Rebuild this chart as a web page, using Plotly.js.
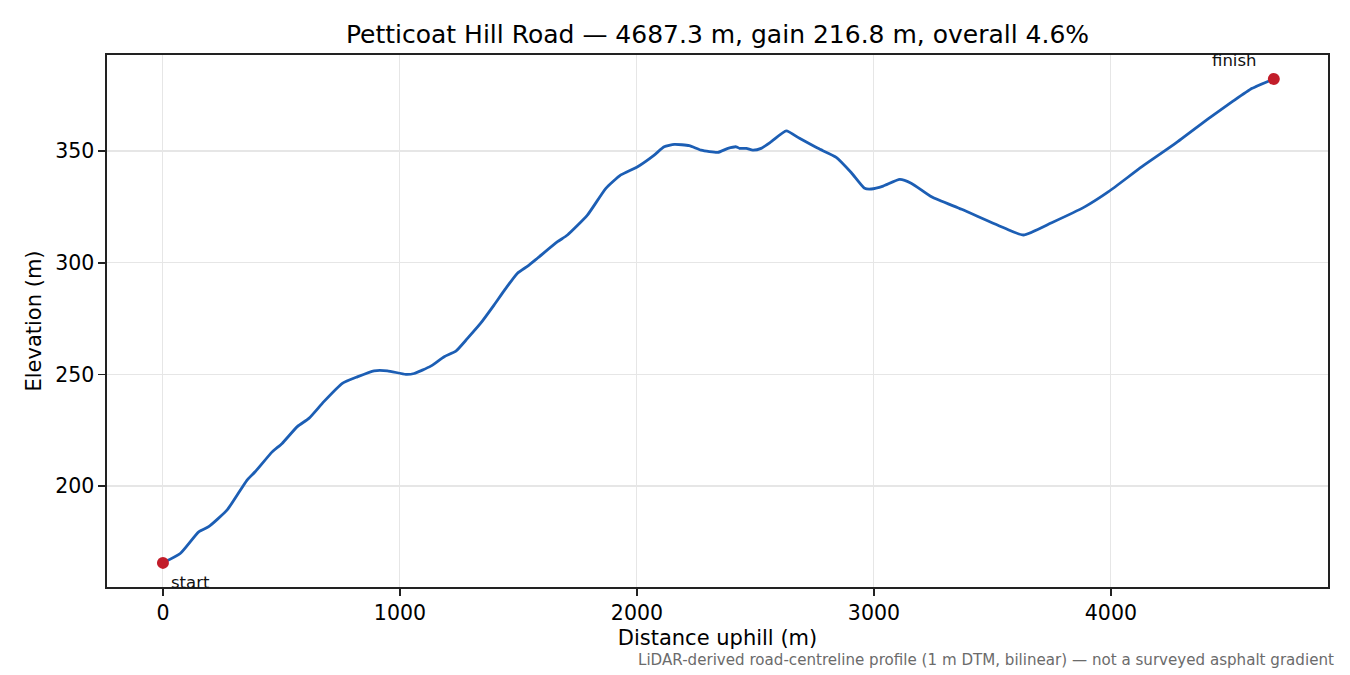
<!DOCTYPE html>
<html>
<head>
<meta charset="utf-8">
<script src="https://cdn.plot.ly/plotly-3.0.1.min.js"></script>
<style>
  html, body { margin: 0; padding: 0; background: #fff; }
  #chart { width: 1350px; height: 675px; }
</style>
</head>
<body>
<div id="chart"></div>
<script>
// ─── Profile data ────────────────────────────────────────────────────────────
const distance = [
  0, 73, 151, 193, 271, 355, 390, 461, 503, 567, 616, 679, 757, 820, 891, 947,
  1025, 1060, 1130, 1187, 1236, 1285, 1340, 1397, 1440, 1495, 1539, 1580, 1665,
  1707, 1791, 1869, 1932, 2003, 2073, 2115, 2158, 2221, 2271, 2341, 2384, 2419,
  2433, 2462, 2489, 2524, 2567, 2630, 2686, 2764, 2841, 2905, 2961, 2989, 3039,
  3109, 3159, 3243, 3370, 3553, 3631, 3750, 3891, 3990, 4131, 4272, 4413, 4512,
  4596, 4687.3
];
const elevation = [
  165.6, 169.8, 179.5, 181.8, 189.3, 202.7, 206.5, 215.3, 219.1, 226.6, 230.3,
  237.8, 246.0, 248.9, 251.6, 251.6, 250.0, 250.4, 253.7, 257.9, 260.4, 266.1,
  272.8, 281.0, 287.5, 295.2, 298.5, 302.0, 309.4, 312.4, 321.3, 333.3, 339.3,
  343.0, 348.2, 351.9, 353.0, 352.4, 350.4, 349.4, 351.2, 351.9, 351.2, 351.2,
  350.4, 351.2, 354.2, 359.0, 355.7, 351.2, 347.2, 340.3, 333.3, 333.0, 334.3,
  337.3, 335.5, 329.5, 323.9, 315.4, 312.4, 317.9, 325.1, 331.8, 343.0, 353.4,
  364.6, 372.1, 378.1, 382.3
];
const endLabels = ['start', 'finish'];

const xTicks = [0, 1000, 2000, 3000, 4000];
const yTicks = [200, 250, 300, 350];

const titleText = 'Petticoat Hill Road — 4687.3 m, gain 216.8 m, overall 4.6%';
const noteText  = 'LiDAR-derived road-centreline profile (1 m DTM, bilinear) — not a surveyed asphalt gradient';

// ─── Traces ──────────────────────────────────────────────────────────────────
const last = distance.length - 1;
const ends = { x: [distance[0], distance[last]], y: [elevation[0], elevation[last]] };

const traces = [
  {
    x: distance,
    y: elevation,
    type: 'scatter',
    mode: 'lines',
    line: { color: '#1c5eb4', width: 2.8, shape: 'spline', smoothing: 0.5 },
    hoverinfo: 'x+y',
  },
  {
    x: ends.x,
    y: ends.y,
    type: 'scatter',
    mode: 'markers',
    marker: { color: '#c21d2a', size: 12 },
    hoverinfo: 'x+y',
  },
];

const axisCommon = {
  showline: true,
  mirror: true,
  linecolor: '#222',
  linewidth: 1.6,
  ticks: 'outside',
  ticklen: 7,
  tickwidth: 1.6,
  tickcolor: '#222',
  showgrid: true,
  gridcolor: '#e6e6e6',
  gridwidth: 1.1,
  zeroline: false,
  tickfont: { size: 20.5, color: '#000' },
};

// plot area in pixels, used to place paper-anchored text outside it
const plot = { l: 107, r: 1328, t: 55, b: 587 };

const layout = {
  width: 1350,
  height: 675,
  paper_bgcolor: '#fff',
  plot_bgcolor: '#fff',
  font: { family: 'DejaVu Sans, sans-serif', color: '#000' },
  margin: { l: plot.l, r: 1350 - plot.r, t: plot.t, b: 675 - plot.b },
  showlegend: false,
  title: {
    text: titleText,
    font: { size: 25 },
    x: 0.5, xanchor: 'center', xref: 'paper',
    y: 1 - 34 / 675, yanchor: 'middle',
  },
  xaxis: Object.assign({}, axisCommon, {
    range: [-236, 4916],
    tickvals: xTicks,
    automargin: false,
    title: { text: 'Distance uphill (m)', font: { size: 21 }, standoff: 6 },
  }),
  yaxis: Object.assign({}, axisCommon, {
    range: [154.8, 393],
    tickvals: yTicks,
    automargin: false,
    title: { text: 'Elevation (m)', font: { size: 21 }, standoff: 8 },
  }),
  annotations: [
    {
      x: ends.x[0], y: ends.y[0], xref: 'x', yref: 'y',
      text: endLabels[0], showarrow: false,
      xanchor: 'left', yanchor: 'middle', xshift: 6, yshift: -20,
      font: { size: 16.5, color: '#111' },
    },
    {
      x: ends.x[1], y: ends.y[1], xref: 'x', yref: 'y',
      text: endLabels[1], showarrow: false,
      xanchor: 'right', yanchor: 'middle', xshift: -15, yshift: 18,
      font: { size: 16.5, color: '#111' },
    },
    {
      x: (1336 - plot.l) / (plot.r - plot.l),
      y: -(660 - plot.b) / (plot.b - plot.t),
      xref: 'paper', yref: 'paper',
      xanchor: 'right', yanchor: 'middle',
      text: noteText, showarrow: false,
      font: { size: 15.1, color: '#6b6b6b' },
    },
  ],
};

Plotly.newPlot('chart', traces, layout, { displayModeBar: false, staticPlot: true });
</script>
</body>
</html>
